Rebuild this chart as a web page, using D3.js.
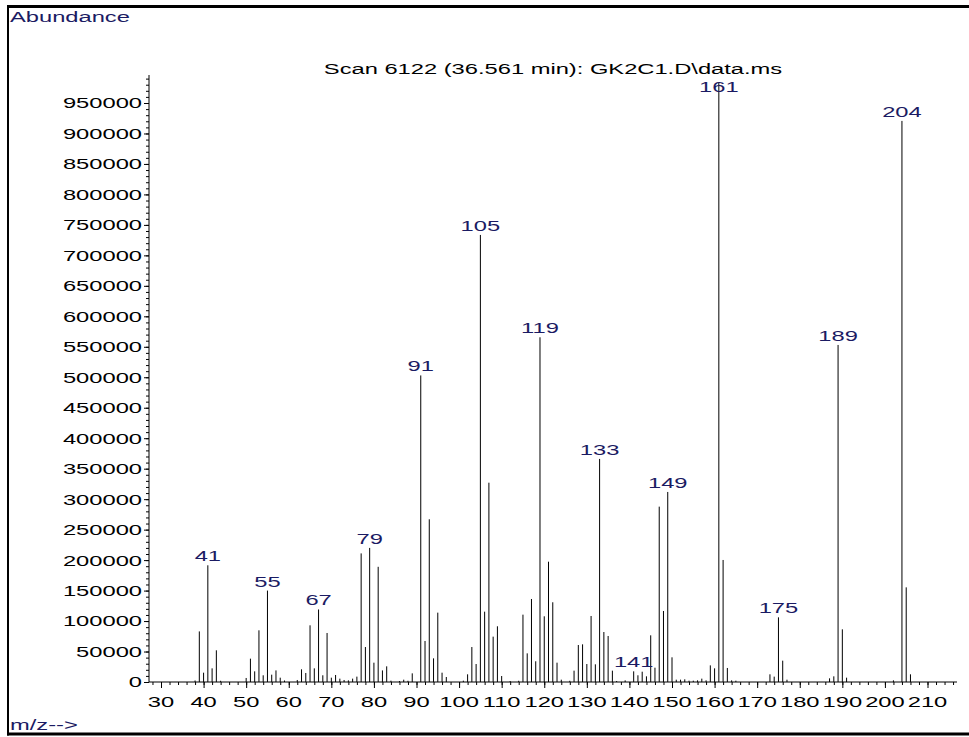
<!DOCTYPE html>
<html>
<head>
<meta charset="utf-8">
<script src="https://cdn.jsdelivr.net/npm/d3@7"></script>
<style>
  html, body { margin: 0; padding: 0; background: #fff; }
  svg { display: block; font-family: "Liberation Sans", Arial, Helvetica, sans-serif; }
</style>
</head>
<body>
<svg id="chart" width="969" height="737"></svg>
<script>
// ---- data ----
const titleText = "Scan 6122 (36.561 min): GK2C1.D\\data.ms";
const yAxisTitle = "Abundance";
const xAxisTitle = "m/z-->";

const mz = [
  38, 39, 40, 41, 42, 43, 44,
  50, 51, 52, 53, 54, 55, 56, 57, 58, 59,
  62, 63, 64, 65, 66, 67, 68, 69, 70, 71, 72, 73, 74, 75, 76, 77, 78, 79,
  80, 81, 82, 83, 84, 86, 87, 88, 89, 91, 92, 93, 94, 95, 96, 97,
  101, 102, 103, 104, 105, 106, 107, 108, 109, 110, 112, 114, 115, 116, 117, 118, 119,
  120, 121, 122, 123, 124, 126, 127, 128, 129, 130, 131, 132, 133, 134, 135, 136, 137, 139,
  141, 142, 143, 144, 145, 146, 147, 148, 149, 150, 151, 152, 153, 154, 155, 156, 157, 158, 159,
  160, 161, 162, 163, 164, 165, 173, 174, 175, 176, 177, 187, 188, 189, 190, 191, 202, 204, 205, 206
];
const abundance = [
  2500, 83000, 15300, 191500, 22400, 52000, 2000,
  6600, 38300, 17500, 84800, 11000, 150000, 12000, 19000, 7100, 2500,
  3300, 20800, 14800, 93000, 22400, 119000, 11000, 80400, 7100, 11500, 5500, 3300, 2700, 5500, 8800, 211000, 57400, 220000,
  31700, 189000, 19000, 25700, 2200, 1600, 3800, 2000, 14200, 503000, 67300, 267000, 38800, 113800, 15300, 8200,
  2200, 12600, 57400, 29500, 733500, 115400, 327000, 74400, 91400, 9800, 1600, 2000, 110500, 47000, 136200, 34000, 565600,
  107800, 197400, 130800, 31700, 3800, 2000, 18600, 60700, 61800, 29500, 108300, 29000, 366000, 82000, 75500, 18600, 1600, 2700,
  17500, 11000, 16900, 9300, 76600, 23500, 287700, 116500, 311800, 40500, 3800, 3800, 4400, 2200, 2200, 2700, 5500, 2700, 27300,
  22400, 983000, 200200, 23000, 2700, 2200, 12600, 8800, 106100, 35000, 3800, 6000, 9300, 553000, 86400, 7100, 2700, 920600, 155300, 12600
];
const labeledPeaks = [41, 55, 67, 79, 91, 105, 119, 133, 141, 149, 161, 175, 189, 204];
const xTickValues = [30, 40, 50, 60, 70, 80, 90, 100, 110, 120, 130, 140, 150, 160, 170, 180, 190, 200, 210];
const yTickValues = [0, 50000, 100000, 150000, 200000, 250000, 300000, 350000, 400000, 450000,
  500000, 550000, 600000, 650000, 700000, 750000, 800000, 850000, 900000, 950000];

// ---- layout ----
const svg = d3.select("#chart");
const axisX0 = 149, axisX1 = 957;   // x-axis line extent
const axisYTop = 75, axisY0 = 682;  // y-axis line extent
const navy = "#1b1b63";
const FS = 15;       // font size
const SX = 1.58;     // horizontal stretch of the original's wide font

const x = d3.scaleLinear().domain([30, 210]).range([161, 927.5]);
const y = d3.scaleLinear().domain([0, 950000]).range([682, 103]);

function wideText(parent, px, py, str, anchor, fill, dy) {
  return parent.append("text")
    .attr("transform", `translate(${px},${py}) scale(${SX},1)`)
    .attr("text-anchor", anchor || "start")
    .attr("dy", dy || 0)
    .attr("fill", fill || "#000")
    .attr("font-size", FS)
    .text(str);
}

// frame
svg.append("line").attr("x1", 7).attr("x2", 969).attr("y1", 6.5).attr("y2", 6.5)
  .attr("stroke", "#000").attr("stroke-width", 3);
svg.append("line").attr("x1", 7).attr("x2", 969).attr("y1", 734).attr("y2", 734)
  .attr("stroke", "#000").attr("stroke-width", 3);
svg.append("line").attr("x1", 8).attr("x2", 8).attr("y1", 5).attr("y2", 735.5)
  .attr("stroke", "#000").attr("stroke-width", 2);

// titles
wideText(svg, 10, 22, yAxisTitle, "start", navy);
wideText(svg, 10, 730, xAxisTitle, "start", navy);
wideText(svg, 553, 74, titleText, "middle", "#000");

// y axis
const yMinor = d3.range(0, 1000001, 10000).filter(v => y(v) >= axisYTop);
const gy = svg.append("g").attr("transform", `translate(${axisX0},0)`);
gy.append("g").call(d3.axisLeft(y).tickValues(yMinor).tickSize(3).tickFormat(""))
  .call(g => g.select(".domain").remove());
gy.append("g").call(d3.axisLeft(y).tickValues(yTickValues).tickSize(5).tickFormat(""))
  .call(g => g.select(".domain").remove());
gy.append("line").attr("x1", 0).attr("x2", 0).attr("y1", axisYTop).attr("y2", axisY0)
  .attr("stroke", "#000");
const gyLabels = svg.append("g");
yTickValues.forEach(v => wideText(gyLabels, 142, y(v), String(v), "end", "#000", "0.36em"));

// x axis
const xMinor = d3.range(28, 217, 2).filter(v => x(v) >= axisX0 && x(v) <= axisX1);
const gx = svg.append("g").attr("transform", `translate(0,${axisY0})`);
gx.append("g").call(d3.axisBottom(x).tickValues(xMinor).tickSize(3).tickFormat(""))
  .call(g => g.select(".domain").remove());
gx.append("g").call(d3.axisBottom(x).tickValues(xTickValues).tickSize(6).tickFormat(""))
  .call(g => g.select(".domain").remove());
gx.append("line").attr("x1", axisX0).attr("x2", axisX1).attr("y1", 0).attr("y2", 0)
  .attr("stroke", "#000");
const gxLabels = svg.append("g");
xTickValues.forEach(v => wideText(gxLabels, x(v), 707, String(v), "middle", "#000"));

// peaks
const peaks = mz.map((m, i) => ({ mz: m, ab: abundance[i] }));
svg.append("g").selectAll("line").data(peaks).join("line")
  .attr("x1", d => x(d.mz)).attr("x2", d => x(d.mz))
  .attr("y1", y(0)).attr("y2", d => y(d.ab))
  .attr("stroke", "#000").attr("stroke-width", 1);

// peak labels
const gPeakLabels = svg.append("g");
peaks.filter(d => labeledPeaks.includes(d.mz))
  .forEach(d => wideText(gPeakLabels, x(d.mz), Math.max(y(d.ab) - 4, 92), String(d.mz), "middle", navy));
</script>
</body>
</html>
